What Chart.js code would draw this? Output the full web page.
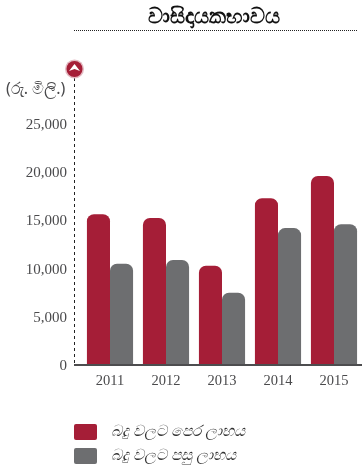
<!DOCTYPE HTML>
<html lang="si">

<head>
    <title>වාසිදායකභාවය</title>
    <meta charset="utf-8" />
    <script src="https://cdn.jsdelivr.net/npm/chart.js@4"></script>
    <style>
        html, body { margin: 0; padding: 0; background: #fff; }
        #wrap { position: relative; width: 362px; height: 469px; }
    </style>
</head>

<body>
    <div id="wrap"><canvas id="graph"></canvas></div>
    <script>
        const years = ['2011', '2012', '2013', '2014', '2015'];
        const beforeTax = [15650, 15250, 10300, 17300, 19600];
        const afterTax = [10500, 10900, 7500, 14200, 14600];
        const beforeTaxLabel = 'බදු වලට පෙර ලාභය';
        const afterTaxLabel = 'බදු වලට පසු ලාභය';
        const heading = 'වාසිදායකභාවය';
        const unitLabel = '(රු. මිලි.)';

        const RED = '#a51e37';
        const GREY = '#6d6e70';
        const TEXT = '#4a4a4c';
        const SERIF = '"Liberation Serif", "DejaVu Serif", serif';
        const SANS = '"Noto Sans", "DejaVu Sans", sans-serif';

        // heading, dotted rules, arrow cap, unit text and the stacked legend
        const decorations = {
            id: 'decorations',
            afterDraw(chart) {
                const { ctx, chartArea } = chart;
                const axisX = chartArea.left - 8;
                const y0 = chart.scales.y.getPixelForValue(0);

                ctx.save();
                ctx.strokeStyle = '#222';
                ctx.lineWidth = 1;
                ctx.setLineDash([1, 1]);
                ctx.beginPath();
                ctx.moveTo(axisX, 30.5);
                ctx.lineTo(358, 30.5);
                ctx.stroke();

                ctx.setLineDash([3, 3]);
                ctx.beginPath();
                ctx.moveTo(axisX + 0.5, 78);
                ctx.lineTo(axisX + 0.5, y0);
                ctx.stroke();
                ctx.setLineDash([]);

                ctx.strokeStyle = '#4d4d4f';
                ctx.lineWidth = 2;
                ctx.beginPath();
                ctx.moveTo(axisX, y0);
                ctx.lineTo(362, y0);
                ctx.stroke();

                // arrow cap on top of the value axis
                ctx.fillStyle = '#e3b9c1';
                ctx.beginPath();
                ctx.arc(axisX + 0.5, 69, 9.5, 0, Math.PI * 2);
                ctx.fill();
                ctx.fillStyle = RED;
                ctx.beginPath();
                ctx.arc(axisX + 0.5, 69, 8, 0, Math.PI * 2);
                ctx.fill();
                ctx.fillStyle = '#fff';
                ctx.beginPath();
                ctx.moveTo(axisX + 0.5, 64);
                ctx.lineTo(axisX + 6, 71);
                ctx.lineTo(axisX + 0.5, 69);
                ctx.lineTo(axisX - 5, 71);
                ctx.closePath();
                ctx.fill();

                ctx.fillStyle = '#111';
                ctx.font = 'bold 20.5px ' + SANS;
                ctx.textAlign = 'center';
                ctx.textBaseline = 'middle';
                ctx.fillText(heading, 214, 17);

                ctx.fillStyle = TEXT;
                ctx.font = '16px ' + SANS;
                ctx.textAlign = 'left';
                ctx.fillText(unitLabel, 6, 89);

                ctx.font = 'italic 15.5px ' + SANS;
                chart.data.datasets.forEach((ds, i) => {
                    const top = 424 + i * 24;
                    ctx.fillStyle = ds.backgroundColor;
                    ctx.beginPath();
                    ctx.roundRect(74, top, 23, 16, 2);
                    ctx.fill();
                    ctx.fillStyle = '#333';
                    ctx.fillText(ds.label, 111, top + 8);
                });
                ctx.restore();
            }
        };

        new Chart(document.getElementById('graph').getContext('2d'), {
            type: 'bar',
            data: {
                labels: years,
                datasets: [
                    { label: beforeTaxLabel, data: beforeTax, backgroundColor: RED },
                    { label: afterTaxLabel, data: afterTax, backgroundColor: GREY }
                ]
            },
            options: {
                responsive: true,
                maintainAspectRatio: false,
                animation: false,
                layout: { padding: { top: 124, bottom: 72, right: 0, left: 0 } },
                datasets: {
                    bar: {
                        categoryPercentage: 0.824,
                        barPercentage: 1,
                        borderRadius: { topLeft: 7, topRight: 7 },
                        borderSkipped: 'bottom'
                    }
                },
                plugins: { legend: { display: false }, tooltip: { enabled: false } },
                scales: {
                    x: {
                        afterFit(axis) { axis.height = 32; },
                        grid: { display: false, drawTicks: false },
                        border: { display: false },
                        ticks: { color: TEXT, padding: 7, font: { family: SERIF, size: 14.5 } }
                    },
                    y: {
                        min: 0,
                        max: 25000,
                        afterFit(axis) { axis.width = 82; },
                        grid: { display: false, drawTicks: false },
                        border: { display: false },
                        ticks: {
                            stepSize: 5000,
                            color: TEXT,
                            padding: 15,
                            labelOffset: 1,
                            font: { family: SERIF, size: 15 },
                            callback: (v) => v.toLocaleString('en-US')
                        }
                    }
                }
            },
            plugins: [decorations]
        });
    </script>
</body>

</html>
